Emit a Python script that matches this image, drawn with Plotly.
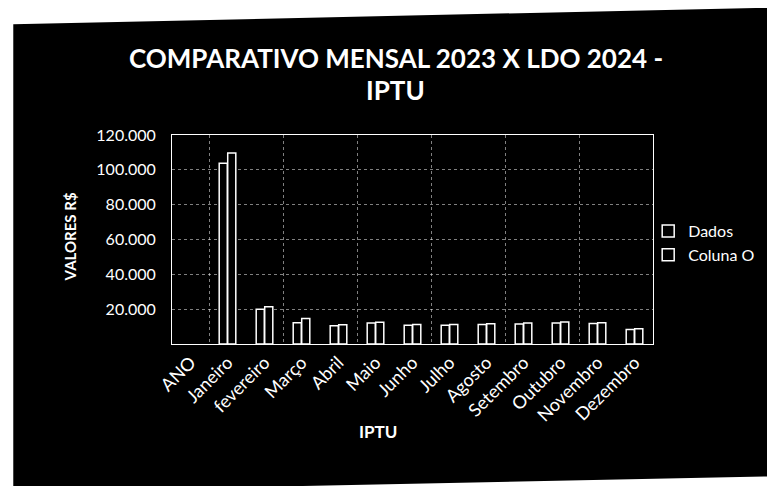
import plotly.graph_objects as go

# dados
categorias = ["ANO", "Janeiro", "fevereiro", "Março", "Abril", "Maio", "Junho",
              "Julho", "Agosto", "Setembro", "Outubro", "Novembro", "Dezembro"]
dados = [None, 103800, 20000, 12200, 10500, 12000, 10800, 10800, 11200, 11500, 12000, 11800, 8300]
coluna_o = [None, 109600, 21400, 14600, 11000, 12500, 11200, 11200, 11600, 12000, 12600, 12200, 8700]
y_ticks = [20000, 40000, 60000, 80000, 100000, 120000]
y_tick_text = ["20.000", "40.000", "60.000", "80.000", "100.000", "120.000"]

FONT = "Lato"
GRID = "rgba(255,255,255,0.5)"

fig = go.Figure()
for nome, valores in [("Dados", dados), ("Coluna O", coluna_o)]:
    fig.add_trace(go.Bar(
        x=categorias, y=valores, name=nome,
        marker=dict(color="black", line=dict(color="white", width=1.5)),
    ))

# eixo auxiliar so para as linhas de grade verticais (a cada 2 meses)
fig.add_trace(go.Scatter(x=[None], y=[None], xaxis="x2", showlegend=False,
                         hoverinfo="skip", mode="markers"))

# fundo preto levemente inclinado (foto da folha)
fig.add_shape(type="path", xref="paper", yref="paper", layer="below",
              path="M -0.33 1.53 L 1.26 1.61 L 1.27 -0.632 L -0.33 -0.708 Z",
              fillcolor="black", line=dict(width=0))

fig.add_annotation(text="<b>COMPARATIVO MENSAL 2023 X LDO 2024 -</b>", xref="paper", yref="paper",
                   x=0.465, y=1.37, showarrow=False, yanchor="middle",
                   font=dict(family=FONT, size=26, color="white"))
fig.add_annotation(text="<b>IPTU</b>", xref="paper", yref="paper",
                   x=0.465, y=1.215, showarrow=False, yanchor="middle",
                   font=dict(family=FONT, size=26, color="white"))
fig.add_annotation(text="<b>VALORES R$</b>", xref="paper", yref="paper",
                   x=-0.233, y=0.292, showarrow=False, textangle=-90,
                   font=dict(family=FONT, size=15, color="white"))
fig.add_annotation(text="<b>IPTU</b>", xref="paper", yref="paper",
                   x=0.428, y=-0.478, showarrow=False,
                   font=dict(family=FONT, size=17, color="white"))

fig.update_layout(
    width=775, height=486,
    margin=dict(l=164, r=130, t=127, b=150),
    paper_bgcolor="white",
    plot_bgcolor="rgba(0,0,0,0)",
    barmode="group", bargap=0.54, bargroupgap=0.05,
    font=dict(family=FONT, color="white"),
    legend=dict(x=0.99, y=0.483, yanchor="middle", xanchor="left",
                font=dict(family=FONT, size=16, color="white"),
                bgcolor="rgba(0,0,0,0)", itemwidth=30),
    xaxis=dict(
        tickangle=-45, tickfont=dict(family=FONT, size=18, color="white"),
        showgrid=False, showline=True, linecolor="white", linewidth=1,
        mirror=True, ticks="",
    ),
    xaxis2=dict(
        overlaying="x", range=[-0.5, 12.5], tickvals=[0.5, 2.5, 4.5, 6.5, 8.5, 10.5],
        showticklabels=False, showgrid=True, gridcolor=GRID, griddash="dot",
        zeroline=False, showline=False, ticks="",
    ),
    yaxis=dict(
        range=[0, 120000], tickvals=y_ticks, ticktext=y_tick_text,
        tickfont=dict(family=FONT, size=16, color="white"),
        showgrid=True, gridcolor=GRID, griddash="dot", gridwidth=1,
        zeroline=False, showline=True, linecolor="white", mirror=True,
        ticks="outside", ticklen=12, tickcolor="rgba(0,0,0,0)",
    ),
)

fig.write_html("out.html")
